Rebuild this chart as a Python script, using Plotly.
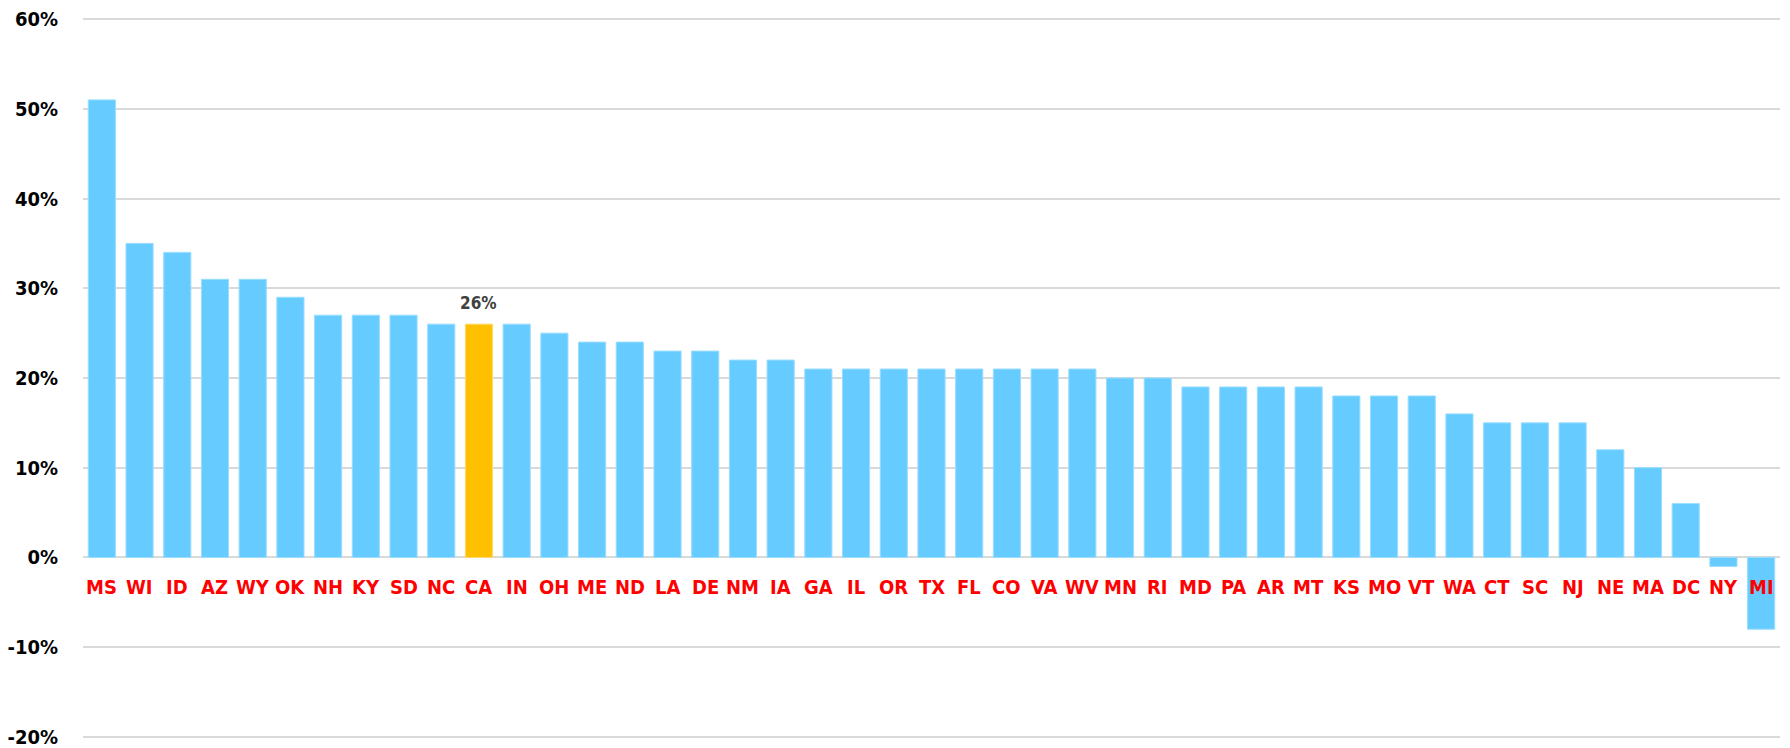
import plotly.graph_objects as go

states = ["MS", "WI", "ID", "AZ", "WY", "OK", "NH", "KY", "SD", "NC", "CA", "IN", "OH", "ME", "ND",
          "LA", "DE", "NM", "IA", "GA", "IL", "OR", "TX", "FL", "CO", "VA", "WV", "MN", "RI", "MD",
          "PA", "AR", "MT", "KS", "MO", "VT", "WA", "CT", "SC", "NJ", "NE", "MA", "DC", "NY", "MI"]
values = [51, 35, 34, 31, 31, 29, 27, 27, 27, 26, 26, 26, 25, 24, 24,
          23, 23, 22, 22, 21, 21, 21, 21, 21, 21, 21, 21, 20, 20, 19,
          19, 19, 19, 18, 18, 18, 16, 15, 15, 15, 12, 10, 6, -1, -8]
highlight = "CA"
y_ticks = [-20, -10, 0, 10, 20, 30, 40, 50, 60]
y_tick_labels = ["-20%", "-10%", "0%", "10%", "20%", "30%", "40%", "50%", "60%"]

FONT = "DejaVu Sans Condensed, Liberation Sans Narrow, Arial Narrow, sans-serif"
BLUE = "#66CCFF"
GOLD = "#FFC000"

colors = [GOLD if s == highlight else BLUE for s in states]
line_colors = ["#FFD966" if s == highlight else "#99DDFF" for s in states]

fig = go.Figure()
fig.add_trace(go.Bar(
    x=states, y=values,
    marker=dict(color=colors, line=dict(color=line_colors, width=1)),
    hoverinfo="x+y",
))

# red state labels just below the zero line
for s in states:
    fig.add_annotation(x=s, y=0, xref="x", yref="y", text=s, showarrow=False,
                       yanchor="middle", yshift=-30,
                       font=dict(family=FONT, size=20, color="#FF0000", weight="bold"))

# value label for highlighted state
hi = states.index(highlight)
fig.add_annotation(x=states[hi], y=values[hi], xref="x", yref="y",
                   text=f"{values[hi]}%", showarrow=False, yanchor="bottom", yshift=9,
                   font=dict(family=FONT, size=17, color="#404040", weight="bold"))

# the page body has an 8px margin, so the figure is 8px smaller on each side
fig.update_layout(
    width=1782, height=740,
    margin=dict(l=75, r=10, t=8, b=8, autoexpand=False),
    paper_bgcolor="white", plot_bgcolor="white",
    bargap=0.28,
    showlegend=False,
    xaxis=dict(showticklabels=False, showgrid=False, zeroline=False, showline=False, ticks="",
               automargin=False),
    yaxis=dict(range=[-20.35, 60.35], tickvals=y_ticks, ticktext=y_tick_labels,
               showgrid=True, gridcolor="#D9D9D9", gridwidth=2,
               zeroline=True, zerolinecolor="#D9D9D9", zerolinewidth=2,
               showline=False, ticks="", ticklabelstandoff=24, automargin=False,
               ticklabeloverflow="allow",
               tickfont=dict(family=FONT, size=20, color="#000000", weight="bold")),
)

fig.write_html("out.html")
